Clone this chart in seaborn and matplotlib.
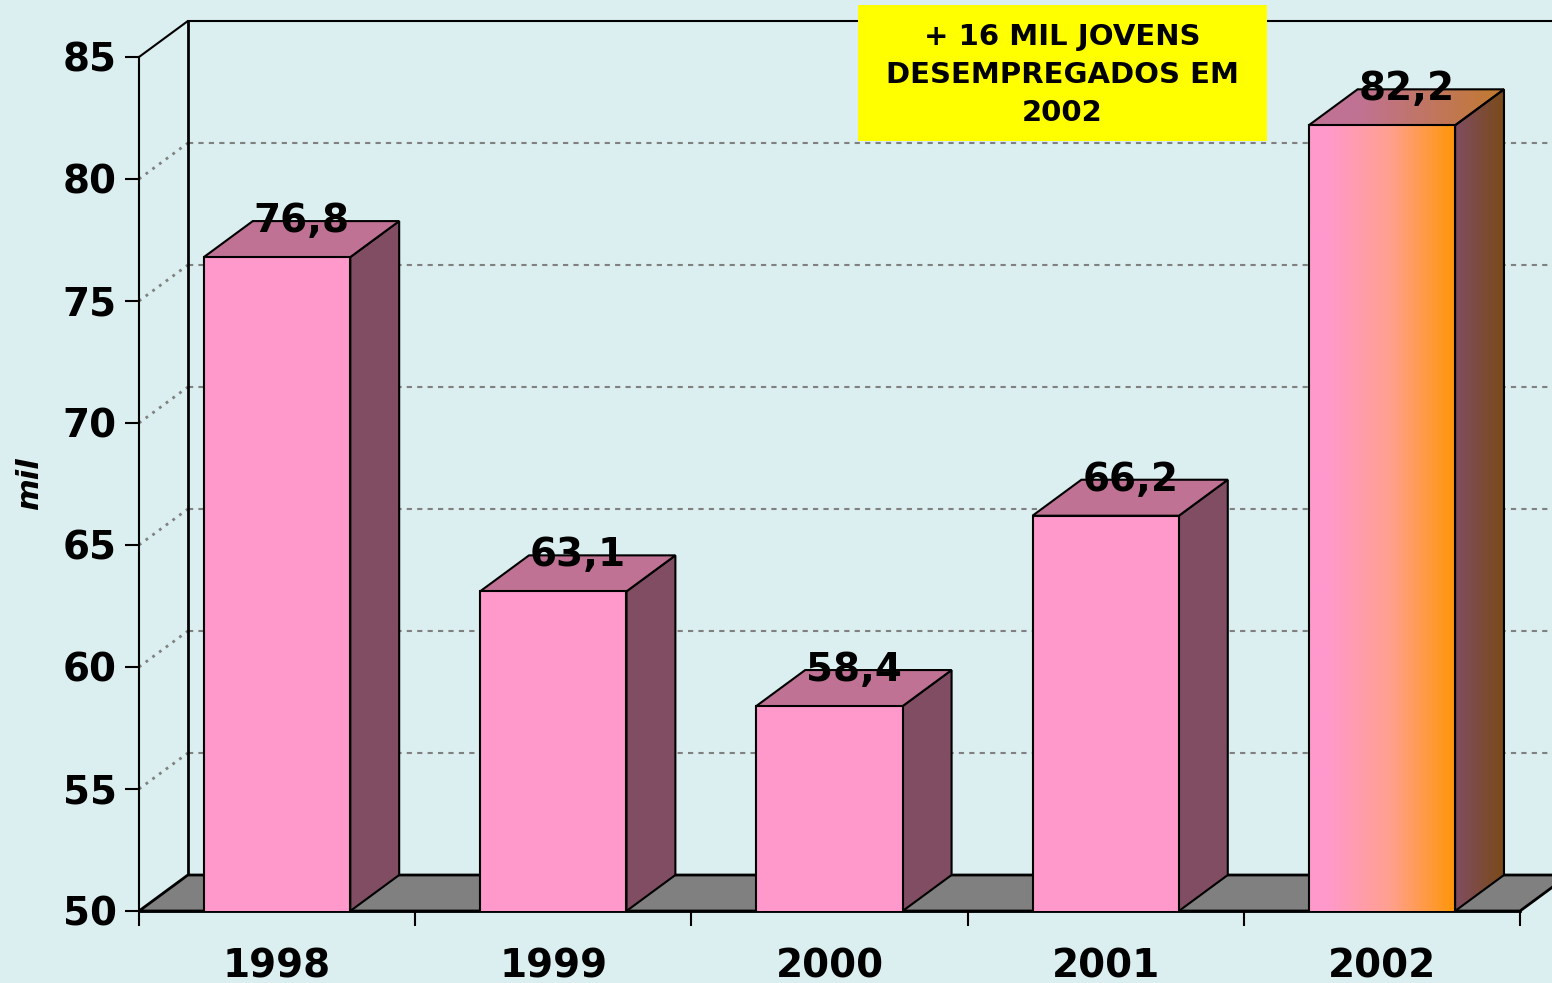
import numpy as np
import matplotlib
matplotlib.use('Agg')
import matplotlib.pyplot as plt
import seaborn as sns
from matplotlib.patches import Polygon, Rectangle
from matplotlib.colors import LinearSegmentedColormap

# data
years = ['1998', '1999', '2000', '2001', '2002']
values = [76.8, 63.1, 58.4, 66.2, 82.2]
value_labels = ['76,8', '63,1', '58,4', '66,2', '82,2']
y_ticks = [50, 55, 60, 65, 70, 75, 80, 85]
note = '+ 16 MIL JOVENS\nDESEMPREGADOS EM\n2002'

# colours
bg = '#DBEEF0'
front_col = '#FF99CC'
side_col = '#804D62'
top_col = '#C07294'
floor_col = '#808080'
grid_col = '#808080'

sns.set_style('white')
plt.rcParams['font.family'] = ['DejaVu Sans']
plt.rcParams['text.color'] = 'black'
plt.rcParams['xtick.color'] = 'black'
plt.rcParams['ytick.color'] = 'black'
plt.rcParams['axes.labelcolor'] = 'black'

fig = plt.figure(figsize=(15.52, 9.83), dpi=100, facecolor=bg)
ax = fig.add_axes([139 / 1552, 72 / 983, 1381 / 1552, 854 / 983])
ax.set_facecolor('none')

# 3d depth offset in data units
DX, DY = 0.177, 1.475
BW = 0.53
y0, y1 = 50, 85
xl, xr = -0.5, 4.5

# front faces via seaborn
sns.barplot(x=years, y=values, color=front_col, saturation=1, width=BW,
            edgecolor='black', linewidth=1.5, errorbar=None, ax=ax, zorder=5)
bars = list(ax.patches)

# back wall grid lines
for t in y_ticks[1:-1]:
    ax.plot([xl + DX, xr + 2 * DX], [t + DY, t + DY], color=grid_col,
            ls=(0, (2.5, 2.5)), lw=1.5, zorder=1, clip_on=False)
    # dotted lines on the left side wall
    ax.plot([xl, xl + DX], [t, t + DY], color=grid_col, ls=(0, (1, 2)),
            lw=2, zorder=1, clip_on=False)
ax.plot([xl, xl + DX], [y1, y1 + DY], color='black', lw=1.5, zorder=2, clip_on=False)
ax.plot([xl + DX, xl + DX], [y0 + DY, y1 + DY], color='black', lw=2, zorder=2, clip_on=False)
ax.plot([xl + DX, xr + 2 * DX], [y1 + DY, y1 + DY], color='black', lw=1.5, zorder=2, clip_on=False)

# floor
floor = Polygon([(xl, y0), (xr, y0), (xr + DX, y0 + DY), (xl + DX, y0 + DY)],
                closed=True, facecolor=floor_col, edgecolor='black', lw=2,
                zorder=2, clip_on=False)
ax.add_patch(floor)

# side and top faces
for i, v in enumerate(values):
    x0 = i - BW / 2
    x1 = i + BW / 2
    side = Polygon([(x1, y0), (x1, v), (x1 + DX, v + DY), (x1 + DX, y0 + DY)],
                   closed=True, facecolor=side_col, edgecolor='black', lw=1.5, zorder=4)
    top = Polygon([(x0, v), (x1, v), (x1 + DX, v + DY), (x0 + DX, v + DY)],
                  closed=True, facecolor=top_col, edgecolor='black', lw=1.5, zorder=4)
    ax.add_patch(side)
    ax.add_patch(top)

    if i == len(values) - 1:
        # highlighted bar with horizontal gradients
        grad = np.linspace(0, 1, 256).reshape(1, -1)
        cm_front = LinearSegmentedColormap.from_list(
            'f', [(0, front_col), (0.12, front_col), (0.55, '#FFA08F'), (1, '#FF9505')])
        cm_top = LinearSegmentedColormap.from_list(
            't', [(0, top_col), (0.25, top_col), (1, '#C27A2C')])
        cm_side = LinearSegmentedColormap.from_list('s', [side_col, '#7A4A18'])
        im = ax.imshow(grad, extent=[x0, x1, y0, v], cmap=cm_front, aspect='auto',
                       zorder=5.5, interpolation='bilinear')
        im.set_clip_path(bars[i])
        bars[i].set_facecolor('none')
        bars[i].set_zorder(6)
        im = ax.imshow(grad, extent=[x0, x1 + DX, v, v + DY], cmap=cm_top, aspect='auto',
                       zorder=4.2, interpolation='bilinear')
        im.set_clip_path(top)
        im = ax.imshow(grad, extent=[x1, x1 + DX, y0, v + DY], cmap=cm_side, aspect='auto',
                       zorder=4.2, interpolation='bilinear')
        im.set_clip_path(side)
        for p in (top, side):
            p.set_facecolor('none')
            p.set_zorder(4.5)

    ax.text(i + DX / 2, v + DY, value_labels[i], ha='center', va='center',
            fontsize=28, fontweight='bold', color='black', zorder=10)

# axes
ax.set_xlim(xl, xr)
ax.set_ylim(y0, y1)
ax.set_yticks(y_ticks)
ax.set_yticklabels([str(t) for t in y_ticks], fontsize=28, fontweight='bold')
ax.set_xticks(range(len(years)))
ax.set_xticklabels(years, fontsize=28, fontweight='bold')
ax.set_xticks(np.arange(xl, xr + 0.5, 1), minor=True)
ax.tick_params(axis='y', length=10, width=1.5, pad=6, direction='out', left=True)
ax.tick_params(axis='x', which='major', length=0, pad=26)
ax.tick_params(axis='x', which='minor', length=11, width=1.5, direction='out', bottom=True)
ax.set_xlabel('')
ax.set_ylabel('mil', fontsize=22, fontweight='bold', fontstyle='italic')
ax.yaxis.set_label_coords(-0.069, 0.5)
for s in ['top', 'right']:
    ax.spines[s].set_visible(False)
ax.spines['left'].set_linewidth(1.5)
ax.spines['bottom'].set_linewidth(2)
ax.spines['left'].set_color('black')
ax.spines['bottom'].set_color('black')

# yellow note box
box = Rectangle((858 / 1552, 1 - 141 / 983), 409 / 1552, 136 / 983,
                transform=fig.transFigure, facecolor='#FFFF00', edgecolor='none', zorder=5)
fig.add_artist(box)
fig.text(1062 / 1552, 1 - 75 / 983, note, ha='center', va='center', fontsize=21,
         fontweight='bold', linespacing=1.45, color='black', zorder=6)

plt.savefig('out.png', dpi=100, facecolor=bg)
